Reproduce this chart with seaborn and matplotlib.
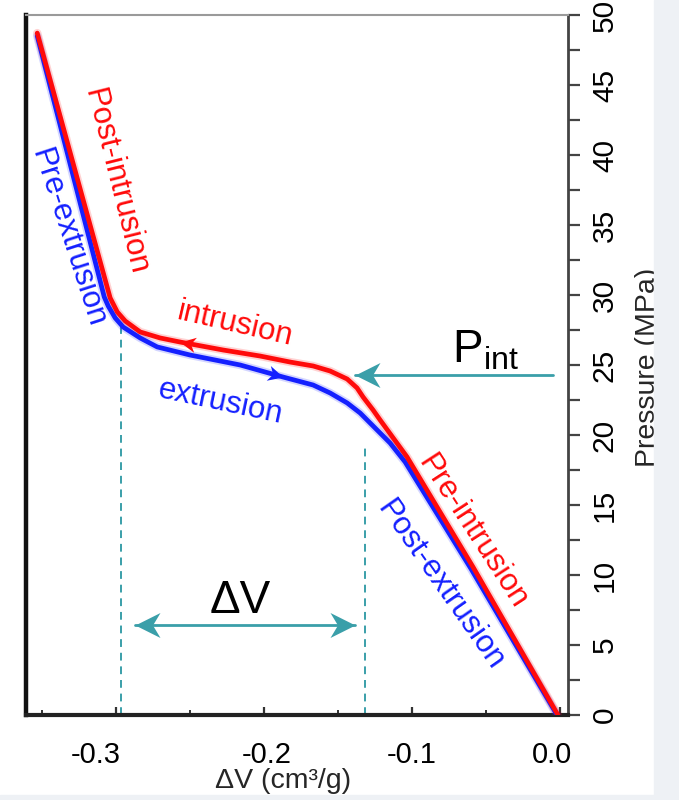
import numpy as np
import pandas as pd
import matplotlib
matplotlib.use("Agg")
import matplotlib.pyplot as plt
from matplotlib.path import Path
from matplotlib.markers import MarkerStyle
from matplotlib.transforms import Affine2D, ScaledTranslation
from matplotlib.ticker import MultipleLocator, FormatStrFormatter
import seaborn as sns

# Pressure-volume isotherm: intrusion (red) and extrusion (blue) branches
intrusion_dv = [-0.3534, -0.3041, -0.2993, -0.2939, -0.2838, -0.2703, -0.2568,
                -0.2277, -0.2027, -0.1824, -0.1669, -0.1554, -0.1439, -0.1372,
                -0.1331, -0.1264, -0.1216, -0.1125, -0.1034, -0.0588, -0.0014]
intrusion_p = [48.71, 29.79, 28.79, 28.14, 27.36, 26.93, 26.64,
               26.07, 25.64, 25.21, 24.93, 24.57, 24.0, 23.36,
               22.71, 21.79, 21.07, 19.75, 18.43, 10.57, 0.0]

extrusion_dv = [-0.3534, -0.3081, -0.3054, -0.3007, -0.2953, -0.2838, -0.2723,
                -0.2500, -0.2162, -0.1872, -0.1669, -0.1554, -0.1439, -0.1351,
                -0.1284, -0.1216, -0.1149, -0.1047, -0.0601, -0.0020]
extrusion_p = [48.5, 29.86, 29.21, 28.36, 27.71, 26.93, 26.29,
               25.71, 25.0, 24.14, 23.57, 23.0, 22.29, 21.57,
               20.86, 20.14, 19.43, 18.07, 10.43, 0.0]

# Intrusion pressure and volume change markers
p_int = 24.3
p_int_arrow_x = [-0.0047, -0.1385]
dv_bounds = [-0.2966, -0.1318]
dv_bound_tops = [27.8, 19.3]
dv_arrow_x = [-0.2872, -0.1385]
dv_arrow_y = 6.4

x_ticks = [-0.3, -0.2, -0.1, 0.0]
y_ticks = [0, 5, 10, 15, 20, 25, 30, 35, 40, 45, 50]

RED = "#ff0a0a"
BLUE = "#1420ff"
TEAL = "#3a9fa9"

sns.set_theme(style="white")
plt.rcParams["font.family"] = ["Liberation Sans", "DejaVu Sans"]
plt.rcParams["axes.unicode_minus"] = False
plt.rcParams["mathtext.fontset"] = "custom"
plt.rcParams["mathtext.rm"] = "Liberation Sans"
plt.rcParams["mathtext.it"] = "Liberation Sans:italic"

fig = plt.figure(figsize=(6.79, 8.0), dpi=100)
fig.patch.set_facecolor("white")
# light page margins on the right and bottom
fig.patches.append(plt.Rectangle((654 / 679, 0), 1 - 654 / 679, 1,
                                 transform=fig.transFigure, color="#eef1f5", zorder=0))
fig.patches.append(plt.Rectangle((0, 0), 1, 5 / 800,
                                 transform=fig.transFigure, color="#eef1f5", zorder=0))

ax = fig.add_axes([26 / 679, 85 / 800, 542 / 679, 700 / 800])
ax.set_xlim(-0.361, 0.0054)
ax.set_ylim(0, 50)

df_in = pd.DataFrame({"dv": intrusion_dv, "p": intrusion_p})
df_ex = pd.DataFrame({"dv": extrusion_dv, "p": extrusion_p})

# soft halo under each branch, then the core line
for df, col in ((df_ex, BLUE), (df_in, RED)):
    sns.lineplot(data=df, x="dv", y="p", sort=False, color=col, lw=6.0,
                 alpha=0.18, ax=ax, zorder=3)
    sns.lineplot(data=df, x="dv", y="p", sort=False, color=col, lw=3.4,
                 ax=ax, zorder=4)
for line in ax.lines:
    line.set_solid_joinstyle("round")
    line.set_solid_capstyle("round")

# notched arrowhead pointing to +x, tip at origin
head = Path([(0, 0), (-1, 0.5), (-0.7, 0), (-1, -0.5), (0, 0)],
            [Path.MOVETO, Path.LINETO, Path.LINETO, Path.LINETO, Path.CLOSEPOLY])


def head_marker(angle):
    return MarkerStyle(head, transform=Affine2D().rotate_deg(angle))


def screen_angle(p0, p1):
    a = ax.transData.transform(p0)
    b = ax.transData.transform(p1)
    return np.degrees(np.arctan2(b[1] - a[1], b[0] - a[0]))


# direction arrows on the plateau of each branch
i = 6
ang = screen_angle((intrusion_dv[i + 1], intrusion_p[i + 1]), (intrusion_dv[i], intrusion_p[i]))
ax.plot(intrusion_dv[i], intrusion_p[i], marker=head_marker(ang), ms=22,
        color=RED, mec="none", zorder=5)
j = 9
ang = screen_angle((extrusion_dv[j - 1], extrusion_p[j - 1]), (extrusion_dv[j], extrusion_p[j]))
ax.plot(extrusion_dv[j], extrusion_p[j], marker=head_marker(ang), ms=22,
        color=BLUE, mec="none", zorder=5)

# dashed bounds of the volume change
for xb, top in zip(dv_bounds, dv_bound_tops):
    ax.plot([xb, xb], [0, top], color=TEAL, lw=1.4, ls=(0, (4, 3)), zorder=2)

# double arrow for the volume change
ax.plot(dv_arrow_x, [dv_arrow_y, dv_arrow_y], color=TEAL, lw=2, zorder=5)
ax.plot(dv_arrow_x[0], dv_arrow_y, marker=head_marker(180), ms=36, color=TEAL,
        mec="none", zorder=6)
ax.plot(dv_arrow_x[1], dv_arrow_y, marker=head_marker(0), ms=36, color=TEAL,
        mec="none", zorder=6)
ax.text(-0.2162, 7.3, "\u0394V", fontsize=33, ha="center", va="baseline", color="black")

# arrow marking the intrusion pressure
ax.plot(p_int_arrow_x, [p_int, p_int], color=TEAL, lw=2, zorder=5)
ax.plot(p_int_arrow_x[1], p_int, marker=head_marker(180), ms=36, color=TEAL,
        mec="none", zorder=6)
ax.text(-0.0507, 25.2, r"P$_{\mathregular{int}}$", fontsize=33, ha="center",
        va="baseline", color="black")

# branch labels
labels = [
    ("Post-intrusion", -0.3007, 38.1, -76, RED),
    ("Pre-extrusion", -0.3330, 34.1, -72, BLUE),
    ("intrusion", -0.2196, 27.9, -13, RED),
    ("extrusion", -0.2297, 22.3, -12, BLUE),
    ("Pre-intrusion", -0.0595, 13.1, -57, RED),
    ("Post-extrusion", -0.0810, 9.3, -55, BLUE),
]
for txt, x, y, rot, col in labels:
    ax.text(x, y, txt, fontsize=22.5, color=col, rotation=rot, rotation_mode="anchor",
            ha="center", va="center", zorder=7)

# axes styling
ax.yaxis.tick_right()
ax.set_xticks(x_ticks)
ax.xaxis.set_major_formatter(FormatStrFormatter("%.1f"))
ax.xaxis.set_minor_locator(MultipleLocator(0.05))
ax.set_yticks(y_ticks)
ax.yaxis.set_minor_locator(MultipleLocator(2.5))
ax.tick_params(axis="x", which="major", direction="in", length=6, width=1.6,
               colors="#333333", labelcolor="black", labelsize=21, pad=19,
               bottom=True, top=False)
ax.tick_params(axis="x", which="minor", direction="in", length=3.5, width=1.4,
               colors="#333333", bottom=True, top=False)
ax.tick_params(axis="y", which="both", direction="out", length=8.5, width=1.6,
               colors="#444444", labelcolor="black", labelsize=21.5, pad=8,
               right=True, left=False)
for lbl in ax.get_yticklabels():
    lbl.set_rotation(90)
    lbl.set_rotation_mode("default")
    lbl.set_va("center")
    lbl.set_ha("left")

# nudge the outer x tick labels a little
for lbl, dx in zip(ax.get_xticklabels(), [-20, 3, 0, -8]):
    lbl.set_transform(lbl.get_transform() + ScaledTranslation(dx / 100, 0, fig.dpi_scale_trans))

ax.set_xlabel("\u0394V (cm\u00b3/g)", fontsize=20.5)
ax.xaxis.label.set(ha="center", va="center")
ax.xaxis.set_label_coords(0.474, -0.094)
ax.set_ylabel("Pressure (MPa)", fontsize=20.5, rotation=90)
ax.yaxis.set_label_position("right")
ax.yaxis.label.set(ha="center", va="center", rotation_mode="anchor")
ax.yaxis.set_label_coords(1.148, 0.496)

ax.spines["left"].set(color="#111111", lw=3.2)
ax.spines["bottom"].set(color="#222222", lw=3.0)
ax.spines["top"].set(color="#9a9a9a", lw=1.5)
ax.spines["right"].set(color="#444444", lw=2.0)

fig.savefig("out.png", dpi=100)
